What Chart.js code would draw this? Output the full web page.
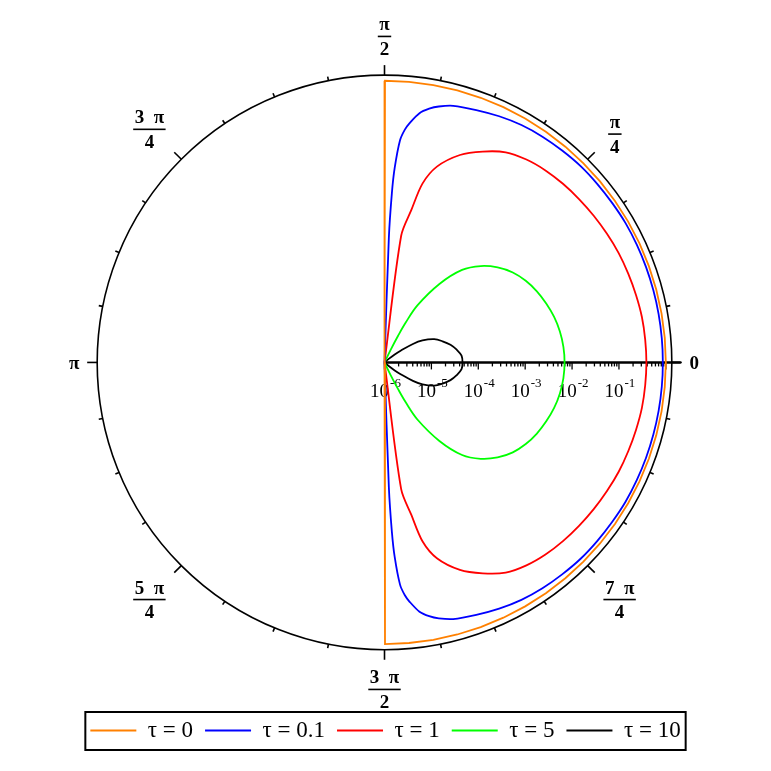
<!DOCTYPE html>
<html>
<head>
<meta charset="utf-8">
<script src="https://cdn.jsdelivr.net/npm/chart.js@4.4.0/dist/chart.umd.min.js"></script>
<style>
    html, body { margin: 0; padding: 0; background: #fff; }
    canvas { display: block; }
</style>
</head>
<body>
<canvas id="chart" width="771" height="771"></canvas>
<script>
// series: angle theta (degrees) and radius r (log radial axis 1e-6 .. 1)
const tau0Theta = [-90, -89.9, -85, -80, -75, -70, -65, -60, -55, -50, -45, -40, -35, -30, -25, -20, -15, -10, -5,
    0, 5, 10, 15, 20, 25, 30, 35, 40, 45, 50, 55, 60, 65, 70, 75, 80, 85, 89.9, 90];
const tau0R = [0, 1, 1, 1, 1, 1, 1, 1, 1, 1, 1, 1, 1, 1, 1, 1, 1, 1, 1,
    1, 1, 1, 1, 1, 1, 1, 1, 1, 1, 1, 1, 1, 1, 1, 1, 1, 1, 1, 0];

const tau01Theta = [-90, -88, -87.5, -87, -86, -85, -84, -82, -80, -78, -75,
    -70, -65, -60, -55, -50, -45, -40, -35, -30, -25, -20, -15, -10, -5,
    0, 5, 10, 15, 20, 25, 30, 35, 40, 45, 50, 55, 60, 65, 70,
    75, 78, 80, 82, 84, 85, 86, 87, 87.5, 88, 90];
const tau01R = [0, 0.000457, 0.00414, 0.0141, 0.0556, 0.0953, 0.134, 0.230, 0.308, 0.375, 0.457,
    0.528, 0.612, 0.692, 0.745, 0.783, 0.822, 0.833, 0.843, 0.863, 0.863, 0.863, 0.863, 0.863, 0.863,
    0.863, 0.863, 0.863, 0.863, 0.863, 0.863, 0.863, 0.843, 0.833, 0.822, 0.783, 0.745, 0.692, 0.612, 0.528,
    0.457, 0.375, 0.308, 0.230, 0.134, 0.0953, 0.0556, 0.0141, 0.00414, 0.000457, 0];

const tau1Theta = [-90, -82.5, -80, -78, -75, -70, -65, -60, -55, -50, -45, -40, -35, -30, -25, -20, -15, -10, -5,
    0, 5, 10, 15, 20, 25, 30, 35, 40, 45, 50, 55, 60, 65, 70, 75, 78, 80, 82.5, 90];
const tau1R = [0, 0.000528, 0.00199, 0.00783, 0.0208, 0.0504, 0.0906, 0.148, 0.189, 0.219, 0.241, 0.260, 0.280, 0.301, 0.324, 0.340, 0.357, 0.375, 0.381,
    0.385, 0.381, 0.375, 0.357, 0.340, 0.324, 0.301, 0.280, 0.260, 0.241, 0.219, 0.189, 0.148, 0.0906, 0.0504, 0.0208, 0.00783, 0.00199, 0.000528, 0];

const tau5Theta = [-65, -64, -63, -62, -60, -55, -50, -45, -40, -35, -30, -25, -20, -15, -10, -5,
    0, 5, 10, 15, 20, 25, 30, 35, 40, 45, 50, 55, 60, 62, 63, 64, 65];
const tau5R = [0, 1.99e-6, 4.35e-6, 9.05e-6, 2.53e-5, 1.10e-4, 3.75e-4, 8.01e-4, 1.41e-3, 2.19e-3, 3.01e-3, 3.85e-3, 4.68e-3, 5.56e-3, 6.28e-3, 6.76e-3,
    6.92e-3, 6.76e-3, 6.28e-3, 5.56e-3, 4.68e-3, 3.85e-3, 3.01e-3, 2.19e-3, 1.41e-3, 8.01e-4, 3.75e-4, 1.10e-4, 2.53e-5, 9.05e-6, 4.35e-6, 1.99e-6, 0];

const tau10Theta = [-42, -40, -38, -36, -33, -30, -25, -20, -15, -10, -5,
    0, 5, 10, 15, 20, 25, 30, 33, 36, 38, 40, 42];
const tau10R = [0, 1.34e-6, 1.89e-6, 2.66e-6, 5.28e-6, 8.63e-6, 1.48e-5, 2.08e-5, 2.86e-5, 3.66e-5, 4.46e-5,
    4.61e-5, 4.46e-5, 3.66e-5, 2.86e-5, 2.08e-5, 1.48e-5, 8.63e-6, 5.28e-6, 2.66e-6, 1.89e-6, 1.34e-6, 0];

const seriesLabels = ['τ = 0', 'τ = 0.1', 'τ = 1', 'τ = 5', 'τ = 10'];
const seriesColors = ['#ff8000', '#0000ff', '#ff0000', '#00ff00', '#000000'];

// tick labels
const radialExponents = [-6, -5, -4, -3, -2, -1];
const angleTickNum = ['0', 'π', 'π', '3\u2002π', 'π', '5\u2002π', '3\u2002π', '7\u2002π'];
const angleTickDen = ['', '4', '2', '4', '', '4', '2', '4'];

// layout (pixels)
const CENTER_X = 384.5, CENTER_Y = 362, PX_PER_DECADE = 47;
const OUTER = 288 / PX_PER_DECADE;      // outer circle, in decades
const AXIS_END = 297 / PX_PER_DECADE;   // radial axis line length
const SERIF = '"Liberation Serif", "Times New Roman", serif';

Chart.defaults.font.family = SERIF;

function toXY(thetaDeg, r) {
    const rho = r > 0 ? Math.max(0, Math.log10(r) - radialExponents[0]) : 0;
    const a = thetaDeg * Math.PI / 180;
    return { x: rho * Math.cos(a), y: rho * Math.sin(a) };
}

function makeSet(i, thetas, rs, tension) {
    return {
        label: seriesLabels[i],
        data: thetas.map((t, k) => toXY(t, rs[k])),
        borderColor: seriesColors[i],
        backgroundColor: seriesColors[i],
        borderWidth: 1.8,
        showLine: true,
        pointRadius: 0,
        tension: tension
    };
}

const datasets = [
    makeSet(0, tau0Theta, tau0R, 0),
    makeSet(1, tau01Theta, tau01R, 0.3),
    makeSet(2, tau1Theta, tau1R, 0.3),
    makeSet(3, tau5Theta, tau5R, 0.35),
    makeSet(4, tau10Theta, tau10R, 0.35)
];

function drawFraction(ctx, num, den, cx, cy) {
    // cy is the fraction bar
    const wN = ctx.measureText(num).width;
    if (!den) {
        ctx.textBaseline = 'middle';
        ctx.fillText(num, cx, cy);
        return;
    }
    const wD = ctx.measureText(den).width;
    const w = Math.max(wN, wD) + 3;
    ctx.textBaseline = 'alphabetic';
    ctx.fillText(num, cx, cy - 6);
    ctx.fillText(den, cx, cy + 18.5);
    ctx.fillRect(cx - w / 2, cy - 0.8, w, 1.6);
}

const polarFrame = {
    id: 'polarFrame',
    beforeDatasetsDraw(chart) {
        const { ctx } = chart;
        const xs = chart.scales.x, ys = chart.scales.y;
        const cx = xs.getPixelForValue(0), cy = ys.getPixelForValue(0);
        const ppd = xs.getPixelForValue(1) - cx;
        const R = OUTER * ppd;
        ctx.save();
        ctx.strokeStyle = '#000';
        ctx.fillStyle = '#000';

        // outer circle
        ctx.lineWidth = 1.6;
        ctx.beginPath();
        ctx.arc(cx, cy, R, 0, 2 * Math.PI);
        ctx.stroke();

        // angular ticks every pi/16, outward
        for (let k = 0; k < 32; k++) {
            const a = k * Math.PI / 16;
            const len = k % 4 === 0 ? 10 : 4;
            const ux = Math.cos(a), uy = -Math.sin(a);
            ctx.beginPath();
            ctx.moveTo(cx + ux * R, cy + uy * R);
            ctx.lineTo(cx + ux * (R + len), cy + uy * (R + len));
            ctx.stroke();
        }

        // angular labels
        ctx.font = 'bold 19px ' + SERIF;
        ctx.textAlign = 'center';
        const gap = 303;
        angleTickNum.forEach((num, k) => {
            const den = angleTickDen[k];
            const a = k * Math.PI / 4;
            const ux = Math.cos(a), uy = -Math.sin(a);
            const w = Math.max(ctx.measureText(num).width, den ? ctx.measureText(den).width : 0);
            const hw = w / 2 + 2, hh = den ? 25 : 7;
            const d = gap + Math.abs(ux) * hw + Math.abs(uy) * hh;
            const shift = uy > 0.9 ? -1 : 2;
            drawFraction(ctx, num, den, cx + ux * d, cy + uy * d + shift);
        });

        // radial (log) axis
        const x0 = cx, x1 = xs.getPixelForValue(AXIS_END);
        ctx.lineWidth = 2.5;
        ctx.beginPath();
        ctx.moveTo(x0, cy);
        ctx.lineTo(x1, cy);
        ctx.stroke();
        ctx.lineWidth = 1.3;
        for (let d = 0; d <= radialExponents.length; d++) {
            const px = xs.getPixelForValue(d);
            ctx.beginPath();
            ctx.moveTo(px, cy);
            ctx.lineTo(px, cy + 7);
            ctx.stroke();
            if (d === radialExponents.length) break;
            for (let m = 2; m <= 9; m++) {
                const pm = xs.getPixelForValue(d + Math.log10(m));
                ctx.beginPath();
                ctx.moveTo(pm, cy);
                ctx.lineTo(pm, cy + 4);
                ctx.stroke();
            }
        }

        // radial tick labels 10^k
        ctx.textBaseline = 'alphabetic';
        radialExponents.forEach((e, d) => {
            const px = xs.getPixelForValue(d);
            ctx.font = '19px ' + SERIF;
            const base = '10';
            const wb = ctx.measureText(base).width;
            ctx.font = '13px ' + SERIF;
            const sup = '-' + Math.abs(e);
            const ws = ctx.measureText(sup).width;
            const left = px - (wb + ws + 1) / 2 + 1;
            ctx.textAlign = 'left';
            ctx.font = '19px ' + SERIF;
            ctx.fillText(base, left, cy + 35);
            ctx.font = '13px ' + SERIF;
            ctx.fillText(sup, left + wb + 1, cy + 25);
        });
        ctx.restore();
    }
};

const legendFrame = {
    id: 'legendFrame',
    afterDraw(chart) {
        const hb = chart.legend && chart.legend.legendHitBoxes;
        if (!hb || !hb.length) return;
        let l = Infinity, r = -Infinity, t = Infinity, b = -Infinity;
        hb.forEach(h => {
            l = Math.min(l, h.left);
            r = Math.max(r, h.left + h.width);
            t = Math.min(t, h.top);
            b = Math.max(b, h.top + h.height);
        });
        const ctx = chart.ctx;
        ctx.save();
        ctx.strokeStyle = '#000';
        ctx.lineWidth = 2;
        ctx.strokeRect(l - 5, t - 7, r - l + 10, b - t + 15);
        ctx.restore();
    }
};

const chart = new Chart(document.getElementById('chart'), {
    type: 'scatter',
    data: { datasets: datasets },
    options: {
        responsive: false,
        animation: false,
        layout: { padding: { bottom: 19 } },
        scales: {
            x: { type: 'linear', display: false, min: -8, max: 8 },
            y: { type: 'linear', display: false, min: -8, max: 8 }
        },
        plugins: {
            legend: {
                position: 'bottom',
                labels: {
                    color: '#000',
                    font: { size: 23, family: SERIF },
                    usePointStyle: true,
                    pointStyle: 'line',
                    pointStyleWidth: 46,
                    padding: 12
                }
            },
            tooltip: { enabled: false }
        }
    },
    plugins: [polarFrame, legendFrame]
});

// fix the scale ranges so one decade is PX_PER_DECADE pixels, centred as in the figure
const ca = chart.chartArea;
chart.options.scales.x.min = (ca.left - CENTER_X) / PX_PER_DECADE;
chart.options.scales.x.max = (ca.right - CENTER_X) / PX_PER_DECADE;
chart.options.scales.y.max = (CENTER_Y - ca.top) / PX_PER_DECADE;
chart.options.scales.y.min = (CENTER_Y - ca.bottom) / PX_PER_DECADE;
chart.update();
</script>
</body>
</html>
